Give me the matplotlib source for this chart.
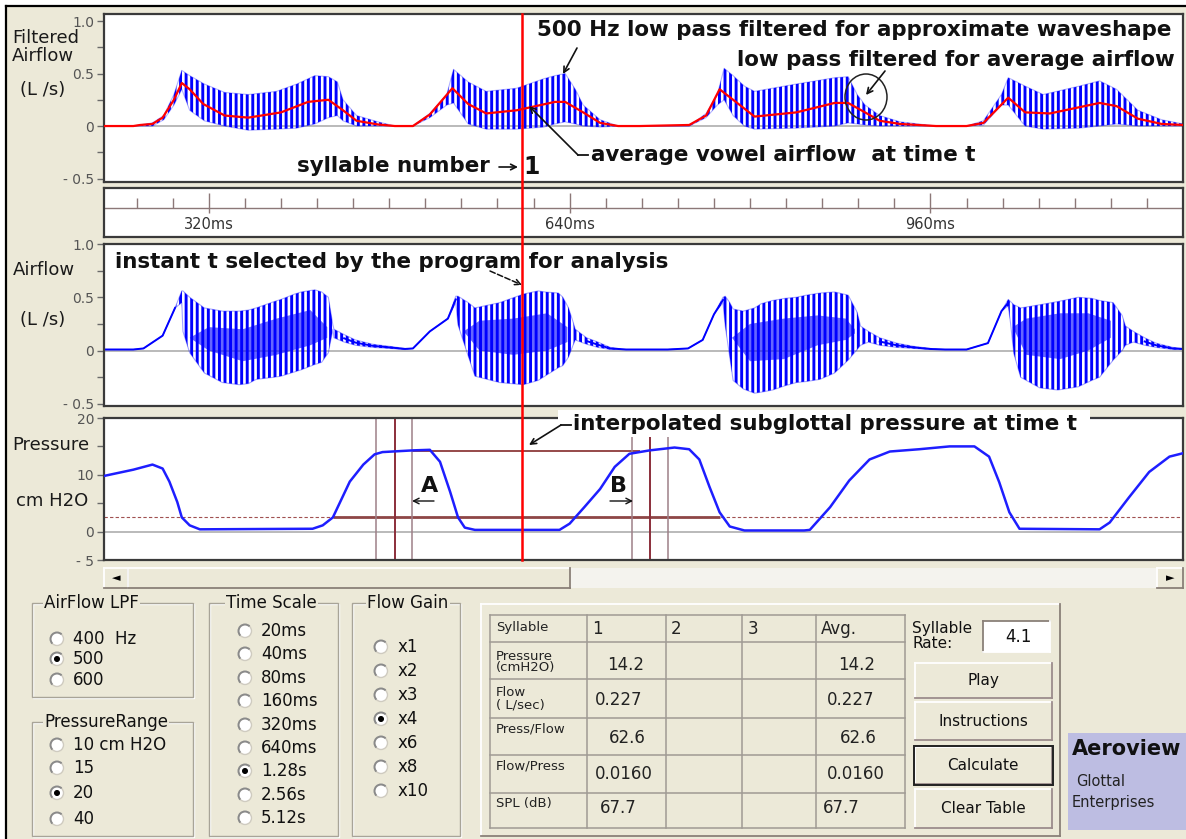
import numpy as np
import matplotlib
matplotlib.use("Agg")
import matplotlib.pyplot as plt
from matplotlib.patches import Rectangle, Circle, Ellipse, Arc
from matplotlib import transforms as mtransforms

plt.rcParams['font.family'] = ['DejaVu Sans']
plt.rcParams['hatch.linewidth'] = 2.1

# ------------------------------------------------------------------ data
time_window_ms = [227, 1184]
t_selected_ms = 598

# low pass filtered average airflow (red), L/s
avg_t = [227, 253, 259, 270, 279, 289, 296, 303, 315, 334, 355, 384, 408, 426, 439, 451, 470, 485,
         501, 516, 536, 550, 566, 593, 627, 636, 652, 667, 683, 702, 746, 761, 773, 785, 804,
         841, 875, 887, 902, 915, 933, 965, 992, 1007, 1029, 1044, 1066, 1110, 1125, 1144, 1165, 1184]
avg_flow = [0, 0, 0.01, 0.02, 0.08, 0.25, 0.41, 0.35, 0.21, 0.10, 0.08, 0.13, 0.23, 0.25, 0.15, 0.05, 0.015, 0,
            0, 0.11, 0.36, 0.21, 0.12, 0.15, 0.23, 0.23, 0.13, 0.03, 0, 0, 0.01, 0.10, 0.35, 0.25, 0.09,
            0.13, 0.22, 0.22, 0.13, 0.05, 0.02, 0, 0, 0.03, 0.27, 0.13, 0.12, 0.22, 0.19, 0.07, 0.02, 0.01]

# 500 Hz low pass filtered airflow: envelope of the glottal pulses (blue), L/s
filt_t = [227, 253, 270, 280, 289, 296, 303, 316, 334, 355, 380, 398, 414, 426, 434, 439, 451, 470, 485,
          501, 516, 531, 537, 550, 566, 593, 617, 627, 636, 645, 652, 667, 683,
          746, 761, 771, 777, 785, 795, 804, 841, 875, 887, 895, 902, 915, 933, 965,
          992, 1007, 1023, 1029, 1044, 1060, 1092, 1110, 1125, 1144, 1165, 1184]
filt_upper = [0, 0, 0.03, 0.10, 0.30, 0.53, 0.48, 0.40, 0.32, 0.30, 0.33, 0.40, 0.48, 0.47, 0.42, 0.25, 0.10, 0.04, 0,
              0, 0.12, 0.30, 0.54, 0.42, 0.33, 0.36, 0.45, 0.48, 0.50, 0.35, 0.20, 0.06, 0,
              0, 0.12, 0.30, 0.55, 0.48, 0.38, 0.33, 0.40, 0.46, 0.47, 0.30, 0.20, 0.10, 0.04, 0,
              0, 0.05, 0.30, 0.46, 0.38, 0.30, 0.38, 0.43, 0.35, 0.15, 0.06, 0.02]
filt_lower = [0, 0, 0, 0.06, 0.20, 0.35, 0.15, 0.05, 0, -0.04, -0.03, -0.02, 0.02, 0.08, 0.10, 0.05, 0, 0, 0,
              0, 0.08, 0.20, 0.22, 0.02, -0.03, -0.03, -0.01, 0.02, 0.04, 0.02, 0, -0.01, 0,
              0, 0.08, 0.20, 0.25, 0.10, 0, -0.03, -0.02, 0, 0.03, 0.02, 0.01, 0, 0, 0,
              0, 0.01, 0.20, 0.20, 0, -0.03, -0.02, 0, 0.02, 0, 0, 0]

# unfiltered airflow envelope (blue), L/s
raw_t = [227, 253, 262, 279, 290, 296, 297, 303, 316, 332, 347, 355, 362, 378, 384, 396, 402, 414, 420, 426, 430,
         431, 440, 450, 465, 480, 494,
         501, 516, 532, 539, 541, 550, 556, 578, 599, 612, 618, 630, 634, 639, 643,
         645, 655, 665, 676, 690,
         702, 727, 745, 758, 768, 776, 778, 782, 785, 794, 804, 810, 820, 831, 841, 850, 862, 875, 887, 895, 898,
         905, 915, 930, 945, 960, 973,
         992, 1011, 1023, 1029, 1031, 1034, 1040, 1057, 1073, 1091, 1103, 1110, 1122, 1130, 1133,
         1140, 1150, 1160, 1175, 1184]
raw_upper = [0.01, 0.01, 0.02, 0.14, 0.40, 0.56, 0.56, 0.50, 0.40, 0.37, 0.37, 0.38, 0.40, 0.46, 0.48, 0.53, 0.55, 0.57, 0.55, 0.50, 0.24,
             0.20, 0.15, 0.10, 0.06, 0.04, 0.02,
             0.02, 0.18, 0.30, 0.51, 0.51, 0.45, 0.40, 0.45, 0.53, 0.56, 0.55, 0.54, 0.50, 0.40, 0.27,
             0.20, 0.12, 0.08, 0.03, 0.01,
             0.01, 0.01, 0.02, 0.10, 0.34, 0.50, 0.51, 0.45, 0.39, 0.37, 0.40, 0.44, 0.47, 0.49, 0.50, 0.52, 0.54, 0.55, 0.52, 0.36, 0.23,
             0.18, 0.12, 0.07, 0.04, 0.02, 0.01,
             0.01, 0.07, 0.37, 0.48, 0.46, 0.43, 0.40, 0.43, 0.46, 0.50, 0.49, 0.47, 0.45, 0.33, 0.23,
             0.18, 0.12, 0.07, 0.03, 0.02]
raw_lower = [0.01, 0.01, 0.02, 0.14, 0.40, 0.45, 0.18, -0.02, -0.21, -0.30, -0.32, -0.31, -0.27, -0.25, -0.24, -0.20, -0.18, -0.13, -0.11, -0.02, 0.20,
             0.12, 0.08, 0.05, 0.03, 0.02, 0.01,
             0.02, 0.18, 0.30, 0.45, 0.24, -0.05, -0.24, -0.30, -0.32, -0.28, -0.24, -0.16, -0.14, -0.06, 0.05,
             0.10, 0.06, 0.03, 0.01, 0.01,
             0.01, 0.01, 0.02, 0.10, 0.34, 0.45, 0.23, -0.06, -0.28, -0.36, -0.40, -0.39, -0.37, -0.33, -0.30, -0.29, -0.27, -0.21, -0.09, 0.01, 0.05,
             0.08, 0.05, 0.03, 0.02, 0.01, 0.01,
             0.01, 0.07, 0.37, 0.42, 0.26, -0.03, -0.25, -0.35, -0.37, -0.34, -0.28, -0.25, -0.09, 0.00, 0.05,
             0.08, 0.05, 0.03, 0.01, 0.01]

# dense core of the unfiltered waveform (NaN separates syllables)
nan = np.nan
raw_core_t = [303, 320, 350, 380, 410, 425, nan, 546, 560, 590, 620, 638, nan,
              784, 800, 830, 860, 885, 893, nan, 1033, 1045, 1075, 1100, 1120]
raw_core_upper = [0.12, 0.22, 0.20, 0.30, 0.38, 0.22, nan, 0.18, 0.28, 0.30, 0.35, 0.22, nan,
                  0.12, 0.25, 0.30, 0.33, 0.30, 0.20, nan, 0.22, 0.30, 0.35, 0.35, 0.28]
raw_core_lower = [0.12, 0.00, -0.10, -0.04, 0.05, 0.12, nan, 0.18, 0.00, -0.04, 0.00, 0.08, nan,
                  0.12, -0.10, -0.08, 0.05, 0.10, 0.16, nan, 0.22, -0.04, -0.08, 0.00, 0.12]

# oral pressure, cm H2O
pres_t = [227, 253, 270, 279, 285, 292, 296, 303, 312, 412, 421, 430, 445, 457, 467, 474, 501, 516, 525, 534, 541, 547, 556,
          631, 640, 653, 667, 680, 693, 711, 733, 746, 755, 764, 773, 782, 795,
          848, 853, 871, 888, 906, 924, 950, 977, 999, 1012, 1021, 1030, 1039,
          1110, 1119, 1136, 1154, 1172, 1184]
pres_cmh2o = [9.8, 10.9, 11.8, 11.1, 8.8, 5.2, 2.5, 1.1, 0.4, 0.5, 1.1, 2.5, 8.8, 11.8, 13.6, 14.0, 14.3, 14.4, 12.3, 7.0, 2.5, 0.7, 0.3,
              0.3, 1.4, 4.3, 7.5, 11.4, 13.7, 14.3, 14.8, 14.5, 12.7, 7.9, 3.4, 0.9, 0.2,
              0.2, 0.3, 4.3, 9.0, 12.7, 14.1, 14.5, 15.0, 15.0, 13.2, 8.7, 3.4, 0.5,
              0.4, 1.6, 6.0, 10.5, 13.2, 13.8]

marker_A_t = [468, 485, 500]
marker_B_t = [695, 711, 727]
p_interp = 14.2
p_thresh = 2.5
interp_span = [500, 702]
thresh_span = [430, 773]

ruler_major = [320, 640, 960]
ruler_minor = [256, 288, 352, 384, 416, 448, 480, 512, 544, 576, 608, 672, 704, 736, 768,
               800, 832, 864, 896, 928, 992, 1024, 1056, 1088, 1120, 1152]
ruler_labels = ['320ms', '640ms', '960ms']

flow_ticks = [-0.5, 0, 0.5, 1.0]
flow_ticklabels = ['- 0.5', '0', '0.5', '1.0']
flow_minor = [-0.25, 0.25, 0.75]
pres_ticks = [-5, 0, 10, 20]
pres_ticklabels = ['- 5', '0', '10', '20']
pres_minor = [5, 15]

lpf_options = ['400  Hz', '500', '600']
lpf_selected = 1
prange_options = ['10 cm H2O', '15', '20', '40']
prange_selected = 2
tscale_options = ['20ms', '40ms', '80ms', '160ms', '320ms', '640ms', '1.28s', '2.56s', '5.12s']
tscale_selected = 6
gain_options = ['x1', 'x2', 'x3', 'x4', 'x6', 'x8', 'x10']
gain_selected = 3

table_header = ['Syllable', '1', '2', '3', 'Avg.']
table_rows = ['Pressure\n(cmH2O)', 'Flow\n( L/sec)', 'Press/Flow', 'Flow/Press', 'SPL (dB)']
syllable1_vals = ['14.2', '0.227', '62.6', '0.0160', '67.7']
average_vals = ['14.2', '0.227', '62.6', '0.0160', '67.7']
syllable_rate = '4.1'
buttons = ['Play', 'Instructions', 'Calculate', 'Clear Table']

# ------------------------------------------------------------------ figure
W, H = 1186, 839
BEIGE = '#ECE9D8'
BLUE = '#0000FF'
RED = '#FF0000'
fig = plt.figure(figsize=(W / 100, H / 100), dpi=100)
fig.patch.set_facecolor('white')

bg = fig.add_axes([0, 0, 1, 1], zorder=0)
bg.set_xlim(0, W); bg.set_ylim(H, 0); bg.axis('off')
bg.add_patch(Rectangle((6, 6), W, H, facecolor=BEIGE, edgecolor='none'))
bg.plot([6, 6], [6, H], color='black', lw=1.6)
bg.plot([6, W], [6, 6], color='black', lw=1.6)


def ax_rect(x0, y0, x1, y1):
    return [x0 / W, 1 - y1 / H, (x1 - x0) / W, (y1 - y0) / H]


X0, X1 = 104, 1183
ax_f = fig.add_axes(ax_rect(X0, 14, X1, 182), zorder=2)
ax_r = fig.add_axes(ax_rect(X0, 188, X1, 237), zorder=2)
ax_a = fig.add_axes(ax_rect(X0, 244, X1, 406), zorder=2)
ax_p = fig.add_axes(ax_rect(X0, 418, X1, 560), zorder=2)


def style(ax):
    ax.set_facecolor('white')
    for s in ax.spines.values():
        s.set_color('#3A3A3A')
        s.set_linewidth(1.6)
    ax.set_xlim(*time_window_ms)
    ax.set_xticks([])
    ax.tick_params(axis='y', which='both', direction='out', length=5, width=1,
                   color='#6A6A6A', labelcolor='#555555', labelsize=10, pad=2)


for ax in (ax_f, ax_r, ax_a, ax_p):
    style(ax)

# --- filtered airflow panel
ax_f.set_ylim(-0.533, 1.067)
ax_f.set_yticks(flow_ticks)
ax_f.set_yticklabels(flow_ticklabels)
ax_f.set_yticks(flow_minor, minor=True)
ax_f.axhline(0, color='#B4B4B4', lw=1.3, zorder=1)
ax_f.fill_between(filt_t, filt_lower, filt_upper, facecolor='none', edgecolor=BLUE,
                  hatch='|||', linewidth=0, zorder=2)
ax_f.plot(filt_t, filt_upper, color=BLUE, lw=0.8, alpha=0.3, zorder=2)
ax_f.plot(filt_t, filt_lower, color=BLUE, lw=0.8, alpha=0.3, zorder=2)
ax_f.plot(avg_t, avg_flow, color=RED, lw=1.6, zorder=3)

# --- ruler panel
ax_r.set_ylim(0, 1)
ax_r.set_yticks([])
ax_r.axhline(0.59, color='#8C7878', lw=1)
ax_r.vlines(ruler_minor, 0.59, 0.80, color='#8C7878', lw=1)
ax_r.vlines(ruler_major, 0.50, 0.90, color='#8C7878', lw=1)
for m, lab in zip(ruler_major, ruler_labels):
    ax_r.text(m, 0.25, lab, ha='center', va='center', fontsize=10.5, color='#333333')

# --- raw airflow panel
ax_a.set_ylim(-0.52, 1.0)
ax_a.set_yticks(flow_ticks)
ax_a.set_yticklabels(flow_ticklabels)
ax_a.set_yticks(flow_minor, minor=True)
ax_a.axhline(0, color='#B4B4B4', lw=1.3, zorder=1)
ax_a.fill_between(raw_t, raw_lower, raw_upper, facecolor='none', edgecolor=BLUE,
                  hatch='|||', linewidth=0, zorder=2)
ax_a.fill_between(raw_core_t, raw_core_lower, raw_core_upper, facecolor=BLUE, alpha=0.6,
                  linewidth=0, zorder=2)
ax_a.plot(raw_t, raw_upper, color=BLUE, lw=0.8, alpha=0.35, zorder=2)
ax_a.plot(raw_t, raw_lower, color=BLUE, lw=0.8, alpha=0.35, zorder=2)
ru = np.array(raw_upper); rl = np.array(raw_lower)
ax_a.plot(raw_t, np.where(np.abs(ru - rl) < 0.08, (ru + rl) / 2, np.nan), color=BLUE, lw=1.4, zorder=2)

# --- pressure panel
ax_p.set_ylim(-5, 20)
ax_p.set_yticks(pres_ticks)
ax_p.set_yticklabels(pres_ticklabels)
ax_p.set_yticks(pres_minor, minor=True)
ax_p.axhline(0, color='#B4B4B4', lw=1.3, zorder=1)
ax_p.axhline(p_thresh, color='#A05050', lw=0.8, ls=(0, (3, 2)), zorder=1)
ax_p.hlines(p_thresh, *thresh_span, color='#8E4646', lw=2.0, zorder=2)
ax_p.hlines(p_interp, *interp_span, color='#8E3A3A', lw=1.3, zorder=2)
ax_p.vlines([marker_A_t[0], marker_A_t[2], marker_B_t[0], marker_B_t[2]], -5, 20,
            color='#9E8088', lw=1.1, zorder=2)
ax_p.vlines([marker_A_t[1], marker_B_t[1]], -5, 20, color='#8B2E3A', lw=1.4, zorder=2)
ax_p.plot(pres_t, pres_cmh2o, color='#1E1EFF', lw=1.8, zorder=3)

# --- overlay for annotations
ov = fig.add_axes([0, 0, 1, 1], zorder=5)
ov.set_xlim(0, W); ov.set_ylim(H, 0); ov.axis('off')
blend = mtransforms.blended_transform_factory(ax_f.transData, ov.transData)
ov.plot([t_selected_ms, t_selected_ms], [14, 560], transform=blend, color=RED, lw=1.8, zorder=1)

AF = dict(fontsize=15.4, fontweight='bold', color='#111111', va='center')
ARW = dict(arrowstyle='->', color='#111111', lw=1.2, shrinkA=0, shrinkB=0)
ov.text(537, 30, '500 Hz low pass filtered for approximate waveshape', ha='left', **AF)
ov.text(1175, 60, 'low pass filtered for average airflow', ha='right', **AF)
ov.annotate('', xy=(563, 74), xytext=(577, 48), arrowprops=ARW)
ov.add_patch(Ellipse((866, 97), 42, 46, fill=False, edgecolor='#222222', lw=1.1))
ov.annotate('', xy=(866, 95), xytext=(885, 71), arrowprops=ARW)
ov.plot([578, 588], [155, 155], color='#111111', lw=1.3)
ov.annotate('', xy=(529, 106), xytext=(578, 155), arrowprops=ARW)
ov.text(591, 155, 'average vowel airflow  at time t', ha='left', **AF)
ov.text(490, 166, 'syllable number', ha='right', **AF)
ov.annotate('', xy=(518, 167), xytext=(499, 167), arrowprops=ARW)
ov.text(532, 167, '1', ha='center', fontsize=17, fontweight='bold', color='#111111', va='center')
ov.text(115, 262, 'instant t selected by the program for analysis', ha='left', **AF)
ov.annotate('', xy=(522, 285), xytext=(490, 271),
            arrowprops=dict(arrowstyle='->', color='#111111', lw=1.1, ls='--', shrinkA=0, shrinkB=0))
ov.add_patch(Rectangle((558, 410), 532, 27, facecolor='white', edgecolor='none', zorder=2))
ov.text(573, 424, 'interpolated subglottal pressure at time t', ha='left', zorder=3, **AF)
ov.plot([561, 571], [425, 425], color='#111111', lw=1.3, zorder=3)
ov.annotate('', xy=(529, 445), xytext=(561, 425), arrowprops=ARW, zorder=3)
ov.text(430, 486, 'A', ha='center', fontsize=16, fontweight='bold', color='#111111', va='center')
ov.annotate('', xy=(412, 501), xytext=(434, 501), arrowprops=dict(arrowstyle='->', color='#111111', lw=1.0,
                                                                   shrinkA=0, shrinkB=0))
ov.text(618, 486, 'B', ha='center', fontsize=16, fontweight='bold', color='#111111', va='center')
ov.annotate('', xy=(633, 501), xytext=(610, 501), arrowprops=dict(arrowstyle='->', color='#111111', lw=1.0,
                                                                   shrinkA=0, shrinkB=0))

# --- left axis labels
LBL = dict(fontsize=13, color='#1A1A1A', ha='left', va='center')
bg.text(12, 47, 'Filtered\nAirflow', linespacing=1.05, **LBL)
bg.text(20, 90, '(L /s)', **LBL)
bg.text(13, 270, 'Airflow', **LBL)
bg.text(20, 320, '(L /s)', **LBL)
bg.text(12, 445, 'Pressure', **LBL)
bg.text(16, 501, 'cm H2O', **LBL)


# ------------------------------------------------------------------ UI widgets
def raised(x0, y0, x1, y1, face=BEIGE, light='white', dark='#8A8078', lw=1.3, z=1):
    bg.add_patch(Rectangle((x0, y0), x1 - x0, y1 - y0, facecolor=face, edgecolor='none', zorder=z))
    bg.plot([x0, x1], [y0, y0], color=light, lw=lw, zorder=z + 0.1)
    bg.plot([x0, x0], [y0, y1], color=light, lw=lw, zorder=z + 0.1)
    bg.plot([x0, x1], [y1, y1], color=dark, lw=lw, zorder=z + 0.1)
    bg.plot([x1, x1], [y0, y1], color=dark, lw=lw, zorder=z + 0.1)


def group(x0, y0, x1, y1, title, tx):
    bg.add_patch(Rectangle((x0 + 1, y0 + 1), x1 - x0, y1 - y0, fill=False, edgecolor='white', lw=1))
    bg.add_patch(Rectangle((x0, y0), x1 - x0, y1 - y0, fill=False, edgecolor='#A8A498', lw=1))
    bg.text(tx, y0, title, ha='left', va='center', fontsize=12, color='#111111',
            bbox=dict(facecolor=BEIGE, edgecolor='none', pad=1))


def radio(cx, cy, label, selected, tx):
    bg.add_patch(Circle((cx, cy), 6.5, facecolor='white', edgecolor='#CFCBC0', lw=1, zorder=2))
    bg.add_patch(Arc((cx, cy), 13, 13, theta1=135, theta2=315, color='#8A8A8A', lw=1.4, zorder=2))
    if selected:
        bg.add_patch(Circle((cx, cy), 2.3, color='black', zorder=3))
    bg.text(tx, cy, label, ha='left', va='center', fontsize=12, color='#111111')


# scrollbar
bg.add_patch(Rectangle((104, 568), 1079, 20, facecolor='#F4F3EE', edgecolor='none'))
raised(104, 568, 128, 588)
bg.text(116, 578, '\u25C4', ha='center', va='center', fontsize=8, color='black')
raised(128, 568, 570, 588)
raised(1157, 568, 1183, 588)
bg.text(1170, 578, '\u25BA', ha='center', va='center', fontsize=8, color='black')

# option groups
group(32, 603, 193, 697, 'AirFlow LPF', 44)
for i, (lab, y) in enumerate(zip(lpf_options, [639, 659, 680])):
    radio(57, y, lab, i == lpf_selected, 73)
group(32, 722, 193, 836, 'PressureRange', 44)
for i, (lab, y) in enumerate(zip(prange_options, [745, 768, 793, 819])):
    radio(57, y, lab, i == prange_selected, 73)
group(209, 603, 338, 836, 'Time Scale', 226)
for i, (lab, y) in enumerate(zip(tscale_options, [631, 654, 678, 701, 725, 748, 771, 795, 818])):
    radio(245, y, lab, i == tscale_selected, 261)
group(352, 603, 460, 836, 'Flow Gain', 367)
for i, (lab, y) in enumerate(zip(gain_options, [647, 671, 695, 719, 743, 767, 791])):
    radio(381, y, lab, i == gain_selected, 398)

# table panel
raised(481, 604, 1060, 836)
col_edges = [490, 587, 666, 742, 816, 905]
row_edges = [615, 642, 679, 718, 755, 793, 828]
for x in col_edges:
    bg.plot([x, x], [row_edges[0], row_edges[-1]], color='#A09A94', lw=1.1, zorder=2)
for y in row_edges:
    bg.plot([col_edges[0], col_edges[-1]], [y, y], color='#A09A94', lw=1.1, zorder=2)
bg.text(496, 628, table_header[0], ha='left', va='center', fontsize=9.5, color='#222222')
for x, lab in zip([592, 671, 748, 821], table_header[1:]):
    bg.text(x, 629, lab, ha='left', va='center', fontsize=12, color='#222222')
label_y = [662, 699, 729, 766, 803]
val_y = [665, 700, 738, 774, 808]
val_x1 = [607, 595, 609, 595, 600]
val_xa = [838, 827, 840, 827, 823]
for i, lab in enumerate(table_rows):
    bg.text(496, label_y[i], lab, ha='left', va='center', fontsize=9.5, color='#222222', linespacing=0.9)
    bg.text(val_x1[i], val_y[i], syllable1_vals[i], ha='left', va='center', fontsize=12, color='#222222')
    bg.text(val_xa[i], val_y[i], average_vals[i], ha='left', va='center', fontsize=12, color='#222222')

# syllable rate and buttons
bg.text(912, 636, 'Syllable\nRate:', ha='left', va='center', fontsize=11, color='#111111', linespacing=0.95)
raised(983, 621, 1050, 652, face='white', light='#8A8078', dark='white')
bg.text(1018, 637, syllable_rate, ha='center', va='center', fontsize=12, color='#111111')
btn_y = [(663, 698), (702, 740), (747, 784), (789, 828)]
for lab, (y0, y1) in zip(buttons, btn_y):
    raised(915, y0, 1052, y1, dark='#9C8C8C')
    if lab == 'Calculate':
        bg.add_patch(Rectangle((914, y0 - 1), 139, y1 - y0 + 2, fill=False, edgecolor='#222222', lw=1.4, zorder=3))
    bg.text(983, (y0 + y1) / 2, lab, ha='center', va='center', fontsize=11, color='#111111', zorder=4)

# Aeroview logo box
bg.add_patch(Rectangle((1068, 733), 118, 97, facecolor='#BDBDE2', edgecolor='none'))
bg.text(1072, 749, 'Aeroview', ha='left', va='center', fontsize=15, fontweight='bold', color='#111111')
bg.text(1076, 782, 'Glottal', ha='left', va='center', fontsize=10.5, color='#222222')
bg.text(1072, 803, 'Enterprises', ha='left', va='center', fontsize=10.5, color='#222222')

fig.savefig('out.png', dpi=100, facecolor=fig.get_facecolor())
